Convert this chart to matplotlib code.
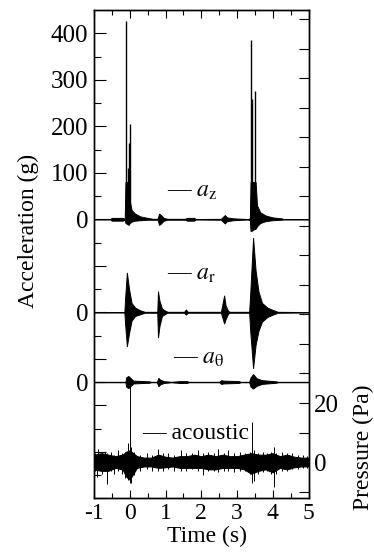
import numpy as np
import matplotlib
matplotlib.use('Agg')
import matplotlib.pyplot as plt
from matplotlib.ticker import MultipleLocator, FixedLocator, FixedFormatter

plt.rcParams['font.family'] = 'serif'
plt.rcParams['font.serif'] = ['Liberation Serif', 'DejaVu Serif']
plt.rcParams['mathtext.fontset'] = 'stix'
plt.rcParams['axes.unicode_minus'] = False

# a_z : envelope of the trace (g) and the tall single spikes
az_t  = [-1.0, -0.55, -0.5, -0.2, -0.14, -0.12, -0.03, 0.0, 0.05, 0.15, 0.3, 0.5, 0.65, 0.78, 0.82, 0.86, 0.95, 1.05,
         1.55, 1.6, 1.8, 1.85, 2.55, 2.66, 2.72, 2.9, 3.3, 3.36, 3.38, 3.52, 3.56, 3.65, 3.8, 4.0, 4.25, 4.3, 5.0]
az_hi = [0.5, 0.5, 3, 3, 1, 80, 80, 40, 20, 12, 6, 3, 1, 1, 12, 10, 3, 1,
         1, 3, 3, 0.5, 1, 9, 4, 2, 0.5, 2, 80, 80, 30, 15, 8, 4, 2, 0.5, 0.5]
az_lo = [-0.5, -0.5, -3, -3, -1, -8, -12, -8, -5, -3, -2, -1, -1, -1, -12, -10, -3, -1,
         -1, -3, -3, -0.5, -1, -9, -4, -2, -0.5, -2, -25, -20, -15, -8, -4, -2, -1, -0.5, -0.5]
az_spk_t  = [-0.10, -0.06, -0.02, 0.0, 3.38, 3.42, 3.50]
az_spk_hi = [426, 110, 163, 205, 386, 258, 276]
az_spk_lo = [0, -10, 0, -5, -25, -25, -20]

# a_r
ar_t  = [-1.0, -0.15, -0.13, -0.08, -0.02, 0.05, 0.15, 0.3, 0.42, 0.77, 0.79, 0.83, 0.9, 1.0, 1.06,
         1.52, 1.57, 1.62, 2.55, 2.64, 2.68, 2.75, 2.8, 3.34, 3.37, 3.45, 3.52, 3.6, 3.7, 3.85, 4.0, 4.14, 5.0]
ar_hi = [0.5, 0.5, 30, 85, 50, 20, 10, 4, 1, 1, 45, 25, 8, 3, 1,
         1, 6, 1, 1, 36, 15, 3, 1, 1, 40, 160, 90, 45, 20, 10, 5, 1, 0.5]
ar_lo = [-0.5, -0.5, -25, -73, -45, -18, -8, -4, -1, -1, -54, -30, -8, -3, -1,
         -1, -5, -1, -1, -24, -15, -3, -1, -1, -40, -120, -70, -40, -20, -10, -5, -1, -0.5]

# a_theta
ath_t  = [-1.0, -0.12, -0.1, -0.04, 0.03, 0.1, 0.55, 0.6, 0.76, 0.8, 0.85, 0.95, 1.1, 1.15,
          1.4, 1.6, 1.65, 2.5, 2.56, 2.62, 3.05, 3.1, 3.34, 3.38, 3.45, 3.55, 3.7, 4.1, 4.15, 5.0]
ath_hi = [0.5, 0.5, 10, 13, 8, 3, 1.5, 0.5, 0.5, 9, 5, 2, 1, 0.5,
          2, 2, 0.5, 0.5, 4, 3, 2, 0.5, 0.5, 10, 17, 8, 4, 1.5, 0.5, 0.5]
ath_lo = [-0.5, -0.5, -10, -13, -8, -3, -1.5, -0.5, -0.5, -9, -5, -2, -1, -0.5,
          -2, -2, -0.5, -0.5, -4, -3, -2, -0.5, -0.5, -10, -14, -8, -4, -1.5, -0.5, -0.5]

# acoustic pressure (Pa): noise band and single hairs
ac_t  = [-1.0, -0.8, -0.6, -0.4, -0.2, -0.1, 0.0, 0.1, 0.2, 0.4, 0.6, 0.8, 1.0, 1.2, 1.4, 1.6, 1.8,
         2.0, 2.2, 2.4, 2.6, 2.8, 3.0, 3.2, 3.4, 3.6, 3.8, 4.0, 4.2, 4.4, 4.6, 4.8, 5.0]
ac_hi = [2.5, 3, 2.5, 2, 2.5, 3.5, 4, 3, 2, 1.5, 1.5, 2.5, 1.8, 1.5, 2, 2, 2.5,
         2, 2.5, 2, 2.5, 2, 2, 2.5, 3, 2.5, 2.5, 3, 2, 2.5, 1.8, 1.5, 1.5]
ac_lo = [-2.5, -3, -3, -2, -2.5, -5, -6, -4, -2, -1.5, -1.5, -2, -1.8, -1.5, -2, -2, -2,
         -2, -2.5, -2.5, -2, -2, -2, -2.5, -4, -3, -2.5, -3.5, -2, -2.5, -1.8, -1.5, -1.5]
ac_spk_t  = [-0.97, -0.93, -0.88, -0.78, -0.7, -0.63, -0.52, -0.45, -0.33, -0.22, -0.12, -0.05, 0.0, 0.04,
             0.12, 0.3, 0.48, 0.62, 0.78, 0.92, 1.08, 1.25, 1.42, 1.58, 1.75, 1.9, 2.05, 2.2, 2.35, 2.48,
             2.65, 2.75, 2.92, 3.08, 3.22, 3.35, 3.43, 3.48, 3.6, 3.72, 3.85, 3.95, 4.03, 4.1, 4.25, 4.4,
             4.55, 4.7, 4.85, 4.97]
ac_spk_hi = [3, 2, 4.5, 3, 3.5, 3, 3.5, 2.5, 4, 3, 3.5, 6.5, 27, 5,
             3.5, 2.5, 3, 2.5, 4.5, 3, 3, 2.5, 4, 3, 3, 4, 3, 3.5, 3, 4.5,
             3, 4, 3, 3.5, 3, 3.5, 13.5, 4, 3, 3.5, 3, 3.5, 5, 3, 3.5, 3,
             3, 2.5, 2.5, 2]
ac_spk_lo = [-3, -5, -2, -4, -3, -7.5, -3, -4, -3, -4, -5.5, -6, -7, -7,
             -4.5, -3, -2.5, -3, -3, -3, -2.5, -3, -3, -3, -2.5, -3, -4.5, -3, -3, -3.5,
             -3, -3, -3.5, -3, -3, -4, -7, -6.5, -4, -3.5, -3, -4, -8.5, -4, -3, -3,
             -2.5, -2.5, -2, -2]

# vertical offsets of the stacked traces on the g axis
AR_OFF = -200
ATH_OFF = -350


def draw_trace(axis, t, hi, lo, off=0, spk_t=None, spk_hi=None, spk_lo=None, spk_lw=1.0):
    axis.fill_between(t, np.array(lo) + off, np.array(hi) + off, color='black', lw=0.7)
    if spk_t is not None:
        axis.vlines(spk_t, np.array(spk_lo) + off, np.array(spk_hi) + off, color='black', lw=spk_lw)


fig = plt.figure(figsize=(3.74, 5.52), dpi=100)
ax = fig.add_axes([94 / 374, 1 - 498.3 / 552, 214.5 / 374, 488.3 / 552])
ax2 = ax.twinx()

draw_trace(ax, az_t, az_hi, az_lo, 0, az_spk_t, az_spk_hi, az_spk_lo)
draw_trace(ax, ar_t, ar_hi, ar_lo, AR_OFF)
draw_trace(ax, ath_t, ath_hi, ath_lo, ATH_OFF)
draw_trace(ax2, ac_t, ac_hi, ac_lo, 0, ac_spk_t, ac_spk_hi, ac_spk_lo, spk_lw=0.7)

ax.set_xlim(-1, 5)
ax.set_ylim(-600, 450)
ax2.set_ylim(-12.3, 153.2)

# labels on the left axis: one scale, three zeros
left_ticks = [400, 300, 200, 100, 0, -100, -200, -300, -350, -400, -500, -600]
left_labels = ['400', '300', '200', '100', '0', '', '0', '', '0', '', '', '']
ax.yaxis.set_major_locator(FixedLocator(left_ticks))
ax.yaxis.set_major_formatter(FixedFormatter(left_labels))
ax.yaxis.set_minor_locator(FixedLocator([350, 250, 150, 50, -50, -150, -250, -450, -550]))
ax.xaxis.set_major_locator(MultipleLocator(1))
ax.xaxis.set_minor_locator(MultipleLocator(0.5))

right_ticks = list(range(-10, 151, 10))
ax2.yaxis.set_major_locator(FixedLocator(right_ticks))
ax2.yaxis.set_major_formatter(FixedFormatter(['0' if v == 0 else '20' if v == 20 else '' for v in right_ticks]))

ax.tick_params(axis='x', which='both', direction='in', top=True, bottom=True, labelsize=17, pad=3.5)
ax.tick_params(axis='x', which='major', length=5.8, width=0.8)
ax.tick_params(axis='x', which='minor', length=3.6, width=0.8)
ax.tick_params(axis='y', which='both', direction='in', labelsize=18, pad=4)
ax.tick_params(axis='y', which='major', length=8.6, width=0.8)
ax.tick_params(axis='y', which='minor', length=5, width=0.8)
ax2.tick_params(axis='y', direction='in', length=7, width=0.8, labelsize=18, pad=4)

for sp in ax.spines.values():
    sp.set_linewidth(1.0)
for sp in ax2.spines.values():
    sp.set_linewidth(1.0)

ax.set_ylabel('Acceleration (g)', fontsize=17)
ax.yaxis.set_label_coords(-0.258, 0.547)
ax2.set_ylabel('Pressure (Pa)', fontsize=17)
ax2.yaxis.set_label_coords(1.207, 0.105)
ax.set_xlabel('Time (s)', fontsize=17)
ax.xaxis.set_label_coords(0.527, -0.056)

ax.text(1.03, 60, '— $a_{\\mathrm{z}}$', fontsize=17, va='center')
ax.text(1.03, -118, '— $a_{\\mathrm{r}}$', fontsize=17, va='center')
ax.text(1.2, -299, '— $a_{\\mathrm{\\theta}}$', fontsize=17, va='center')
ax2.text(0.34, 9.8, '— acoustic', fontsize=17, va='center')

fig.savefig('out.png', dpi=100)
